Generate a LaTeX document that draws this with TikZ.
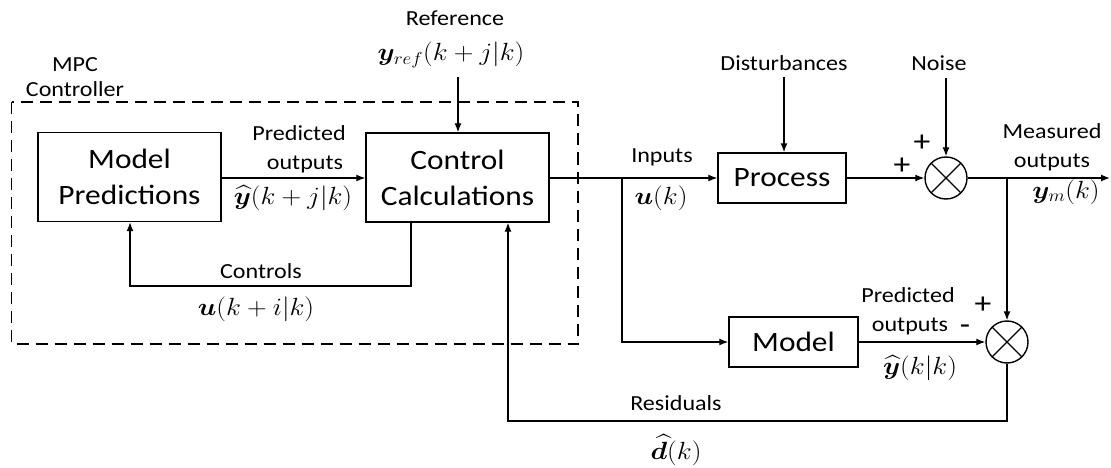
\documentclass[tikz,border=0pt]{standalone}
\usepackage[no-math]{fontspec}
\setmainfont{Carlito}[FakeStretch=1.12]
\usepackage{amsmath,bm,graphicx}
\usetikzlibrary{arrows.meta}
\newcommand{\mlbl}[1]{\scalebox{1.1}[1]{$#1$}}
\begin{document}
\begin{tikzpicture}[x=1pt,y=-1pt,
  blk/.style={draw, line width=1.4pt, inner sep=0pt, align=center, font=\fontsize{28}{36}\selectfont},
  lbl/.style={inner sep=0pt, font=\fontsize{21.5}{26}\selectfont},
  sgn/.style={inner sep=0pt, font=\fontsize{30}{32}\selectfont},
  mlb/.style={inner sep=0pt, font=\fontsize{27}{30}\selectfont},
  conn/.style={line width=1.3pt, -{Latex[length=9pt,width=7pt]}},
  sumnode/.style={circle, draw, line width=1.4pt, minimum size=42pt, inner sep=0pt,
    path picture={\draw[line width=1.2pt] (path picture bounding box.north west) -- (path picture bounding box.south east)
      (path picture bounding box.south west) -- (path picture bounding box.north east);}},
  grp/.style={draw, line width=1.4pt, dash pattern=on 12pt off 7pt}
]
\useasboundingbox (0,0) rectangle (1111,468);

% dashed MPC controller group
\draw[grp] (11.5,102) rectangle (578,344);

% blocks
\node[blk, minimum width=183pt, minimum height=89pt] (mp) at (129.5,177) {Model\\Predictions};
\node[blk, minimum width=183pt, minimum height=89pt] (cc) at (457.5,177.5) {Control\\Calculations};
\node[blk, minimum width=128pt, minimum height=50pt] (pr) at (782,178) {Process};
\node[blk, minimum width=129pt, minimum height=50pt] (mo) at (793.5,342) {Model};
\node[sumnode] (s1) at (946,178) {};
\node[sumnode] (s2) at (1007,342) {};

% coordinates
\coordinate (rt) at (458,77);
\coordinate (dt) at (784,77);
\coordinate (nt) at (946,78);
\coordinate (j1) at (622,178);
\coordinate (j2) at (1007,178);
\coordinate (out) at (1110,178);
\coordinate (c1) at (411,286);
\coordinate (c2) at (130,286);
\coordinate (r1) at (1007,421);
\coordinate (r2) at (508,421);

% connectors
\draw[conn] (mp.east |- 0,178) -- (cc.west |- 0,178);
\draw[conn] (cc.east |- j1) -- (pr.west);
\draw[conn] (j1) -- (j1 |- mo.west) -- (mo.west);
\draw[conn] (pr.east) -- (s1.west);
\draw[conn] (s1.east) -- (out);
\draw[conn] (j2) -- (s2.north);
\draw[conn] (mo.east) -- (s2.west);
\draw[conn] (s2.south) -- (r1) -- (r2) -- (r2 |- cc.south);
\draw[conn] (c1 |- cc.south) -- (c1) -- (c2) -- (c2 |- mp.south);
\draw[conn] (rt) -- (rt |- cc.north);
\draw[conn] (dt) -- (dt |- pr.north);
\draw[conn] (nt) -- (s1.north);

% labels
\node[lbl] (l1) at (455,18) {Reference};
\node[mlb] (m1) at (451,55) {\mlbl{\bm{y}_{ref}(k+j|k)}};
\node[lbl] (l2) at (75,65) {MPC};
\node[lbl] (l3) at (75,89) {Controller};
\node[lbl] (l4) at (299,133) {Predicted};
\node[lbl] (l5) at (305,164) {outputs};
\node[mlb] (m2) at (293,198) {\mlbl{\widehat{\bm{y}}(k+j|k)}};
\node[lbl] (l6) at (261,271) {Controls};
\node[mlb] (m3) at (256,309) {\mlbl{\bm{u}(k+i|k)}};
\node[lbl] (l7) at (662,157) {Inputs};
\node[mlb] (m4) at (661,198) {\mlbl{\bm{u}(k)}};
\node[lbl] (l8) at (784,63) {Disturbances};
\node[lbl] (l9) at (939,63) {Noise};
\node[sgn] (p1) at (922,143) {+};
\node[sgn] (p2) at (902,166) {+};
\node[lbl] (l10) at (1052,131) {Measured};
\node[lbl] (l11) at (1052,162) {outputs};
\node[mlb] (m5) at (1066,192) {\mlbl{\bm{y}_m(k)}};
\node[lbl] (l12) at (908,295) {Predicted};
\node[lbl] (l13) at (910,326) {outputs};
\node[sgn] (p3) at (965,330) {-};
\node[sgn] (p4) at (983,305) {+};
\node[mlb] (m6) at (920,368) {\mlbl{\widehat{\bm{y}}(k|k)}};
\node[lbl] (l14) at (676,403) {Residuals};
\node[mlb] (m7) at (676,450) {\mlbl{\widehat{\bm{d}}(k)}};
\end{tikzpicture}
\end{document}
